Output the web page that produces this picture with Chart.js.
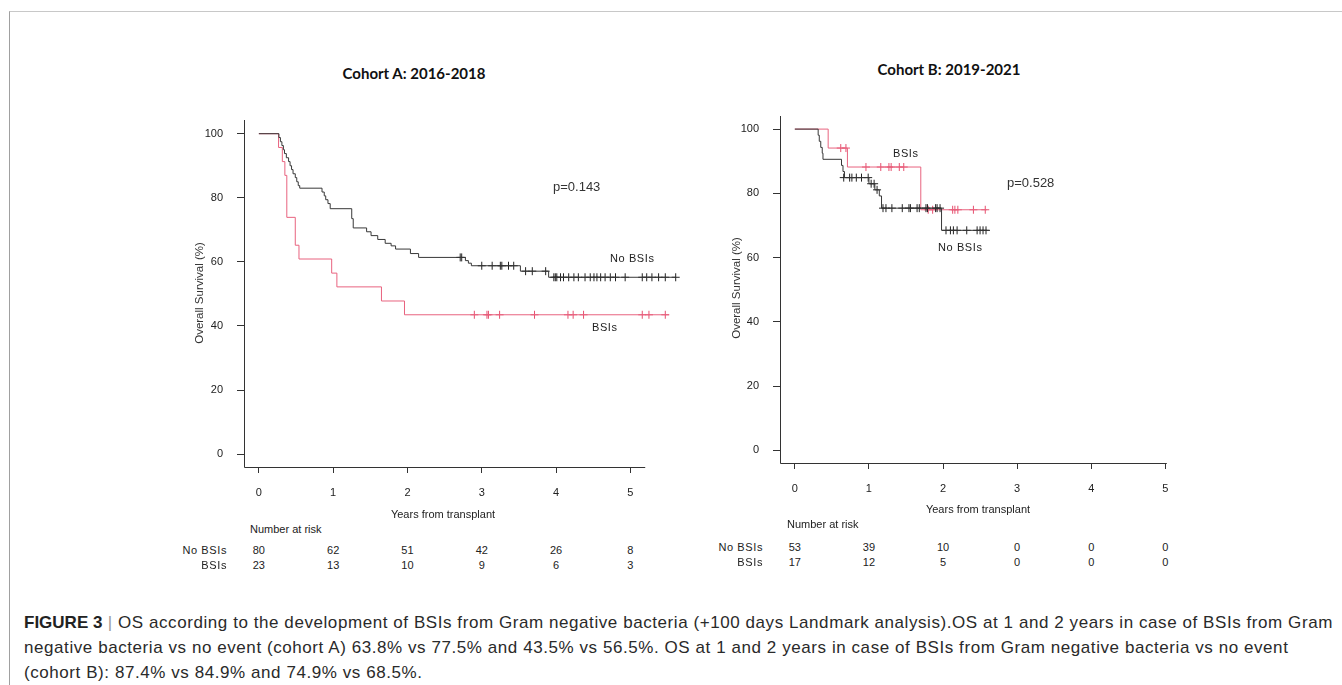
<!DOCTYPE html>
<html lang="en">
<head>
    <meta charset="UTF-8">
    <title>Figure 3 - OS by BSIs</title>
    <script src="https://cdn.jsdelivr.net/npm/chart.js"></script>
    <style>
        body {
            margin: 0;
            width: 1342px;
            height: 685px;
            background: #fff;
            font-family: "Liberation Sans", Arial, sans-serif;
            color: #222;
            position: relative;
            overflow: hidden;
        }
        .frame {
            position: absolute;
            left: 9px; top: 11px; right: 0; bottom: 0;
            border-top: 1px solid #c8c8c8;
            border-left: 1px solid #a0a0a0;
        }
        canvas { position: absolute; }
        .t {
            position: absolute;
            white-space: nowrap;
            font-size: 11px;
            line-height: 1;
            transform: translateY(-50%);
        }
        .c { transform: translate(-50%, -50%); }
        .r { transform: translate(-100%, -50%); }
        .title { font-family: Lato, sans-serif; font-weight: bold; font-size: 15px; color: #111; }
        .ylab { font-size: 11.5px; transform: translate(-50%, -50%) rotate(-90deg); color: #333; }
        .sp { letter-spacing: 0.6px; }
        .caption {
            position: absolute;
            left: 24px; top: 610px;
            font-size: 17px;
            letter-spacing: 0.57px;
            line-height: 25px;
            color: #2a2a2a;
            white-space: nowrap;
        }
        .caption b { color: #222; letter-spacing: 0; }
        .caption .bar { color: #999; }
    </style>
</head>
<body>
    <div class="frame"></div>
    <canvas id="chartA" width="560" height="420" style="left:150px; top:99px;"></canvas>
    <canvas id="chartB" width="510" height="420" style="left:690px; top:95px;"></canvas>

    <div class="t c title" style="left:414px; top:73px;">Cohort A: 2016-2018</div>
    <div class="t c title" style="left:949px; top:69px;">Cohort B: 2019-2021</div>

    <div class="t ylab" style="left:200px; top:293px;">Overall Survival (%)</div>
    <div class="t ylab" style="left:737px; top:288px;">Overall Survival (%)</div>

    <div class="t" style="left:553px; top:186px; font-size:13px; color:#333;">p=0.143</div>
    <div class="t sp" style="left:610px; top:258px;">No BSIs</div>
    <div class="t sp" style="left:592px; top:327px;">BSIs</div>

    <div class="t" style="left:1007px; top:182px; font-size:13px; color:#333;">p=0.528</div>
    <div class="t sp" style="left:893px; top:153px;">BSIs</div>
    <div class="t sp" style="left:938px; top:247px;">No BSIs</div>

    <div class="t c" style="left:443px; top:514px;">Years from transplant</div>
    <div class="t c" style="left:978px; top:509px;">Years from transplant</div>
    <div class="t" style="left:250px; top:529px;">Number at risk</div>
    <div class="t" style="left:787px; top:524px;">Number at risk</div>

    <div id="riskTables"></div>

    <div class="caption">
        <div><b>FIGURE 3</b> <span class="bar">|</span> OS according to the development of BSIs from Gram negative bacteria (+100 days Landmark analysis).OS at 1 and 2 years in case of BSIs from Gram</div>
        <div>negative bacteria vs no event (cohort A) 63.8% vs 77.5% and 43.5% vs 56.5%. OS at 1 and 2 years in case of BSIs from Gram negative bacteria vs no event</div>
        <div>(cohort B): 87.4% vs 84.9% and 74.9% vs 68.5%.</div>
    </div>

    <script>
        const xTicks = [0, 1, 2, 3, 4, 5];
        const yTicks = [0, 20, 40, 60, 80, 100];
        const groupLabels = ['No BSIs', 'BSIs'];

        // Cohort A: 2016-2018 (step points: time in years, survival % after the drop)
        const aNoTime = [0, 0.27, 0.29, 0.31, 0.33, 0.345, 0.37, 0.40, 0.42, 0.44, 0.46, 0.49, 0.51, 0.53, 0.55,
                         0.85, 0.88, 0.90, 0.93, 0.96, 1.25, 1.27, 1.45, 1.51, 1.60, 1.70, 1.78, 1.84, 2.04, 2.15,
                         2.78, 2.82, 2.86, 3.52, 3.90, 5.61];
        const aNoSurv = [100, 98.8, 97.5, 96.3, 95, 93.8, 92.5, 91.3, 90, 88.8, 87.5, 86.3, 85, 83.8, 83,
                         81.8, 80.6, 79.4, 78.2, 76.6, 73.5, 70.6, 69.4, 68.2, 67.0, 65.8, 65.0, 64.0, 62.6, 61.4,
                         60.4, 59.6, 58.8, 57.1, 55.2, 55.2];
        const aNoCensTime = [2.71, 2.73, 3.00, 3.14, 3.25, 3.27, 3.36, 3.43, 3.59, 3.68, 3.86,
                             3.97, 3.99, 4.01, 4.06, 4.10, 4.17, 4.24, 4.30, 4.39, 4.46, 4.51, 4.55, 4.60,
                             4.66, 4.73, 4.80, 4.93, 5.16, 5.22, 5.29, 5.38, 5.47, 5.61];
        const aNoCensSurv = [61.4, 61.4, 58.8, 58.8, 58.8, 58.8, 58.8, 58.8, 57.1, 57.1, 57.1,
                             55.2, 55.2, 55.2, 55.2, 55.2, 55.2, 55.2, 55.2, 55.2, 55.2, 55.2, 55.2, 55.2,
                             55.2, 55.2, 55.2, 55.2, 55.2, 55.2, 55.2, 55.2, 55.2, 55.2];
        const aBsiTime = [0, 0.265, 0.316, 0.35, 0.376, 0.49, 0.54, 0.98, 1.05, 1.65, 1.96, 5.52];
        const aBsiSurv = [100, 95.7, 91.3, 87.0, 73.9, 65.2, 60.9, 56.5, 52.2, 47.8, 43.5, 43.5];
        const aBsiCensTime = [2.90, 3.07, 3.09, 3.24, 3.71, 4.16, 4.23, 4.37, 5.16, 5.25, 5.47];
        const aBsiCensSurv = [43.5, 43.5, 43.5, 43.5, 43.5, 43.5, 43.5, 43.5, 43.5, 43.5, 43.5];
        const aRiskNo = [80, 62, 51, 42, 26, 8];
        const aRiskBsi = [23, 13, 10, 9, 6, 3];

        // Cohort B: 2019-2021
        const bNoTime = [0, 0.315, 0.33, 0.35, 0.37, 0.38, 0.63, 0.65, 0.67, 1.0, 1.08, 1.14, 1.17, 1.98, 2.62];
        const bNoSurv = [100, 98.1, 96.2, 94.3, 92.5, 90.6, 88.7, 86.8, 84.9, 83.0, 81.1, 79.2, 75.4, 68.5, 68.5];
        const bNoCensTime = [0.66, 0.74, 0.77, 0.83, 0.90, 0.99, 1.03, 1.07, 1.11,
                             1.19, 1.23, 1.31, 1.45, 1.54, 1.56, 1.65, 1.68, 1.77, 1.79, 1.90, 1.92, 1.96,
                             2.04, 2.10, 2.14, 2.19, 2.32, 2.46, 2.50, 2.54, 2.58];
        const bNoCensSurv = [84.9, 84.9, 84.9, 84.9, 84.9, 84.9, 83.0, 83.0, 81.1,
                             75.4, 75.4, 75.4, 75.4, 75.4, 75.4, 75.4, 75.4, 75.4, 75.4, 75.4, 75.4, 75.4,
                             68.5, 68.5, 68.5, 68.5, 68.5, 68.5, 68.5, 68.5, 68.5];
        const bBsiTime = [0, 0.45, 0.71, 1.70, 2.59];
        const bBsiSurv = [100, 94.1, 88.2, 74.9, 74.9];
        const bBsiCensTime = [0.62, 0.69, 0.96, 1.16, 1.27, 1.30, 1.41, 1.47, 1.80, 1.86, 2.13, 2.16, 2.20, 2.41, 2.57];
        const bBsiCensSurv = [94.1, 94.1, 88.2, 88.2, 88.2, 88.2, 88.2, 88.2, 74.9, 74.9, 74.9, 74.9, 74.9, 74.9, 74.9];
        const bRiskNo = [53, 39, 10, 0, 0, 0];
        const bRiskBsi = [17, 12, 5, 0, 0, 0];

        const blackLine = '#383838';
        const redLine = '#e8637f';

        const pts = (xs, ys) => xs.map((x, i) => ({ x: x, y: ys[i] }));

        // R style axes: L-shaped box, x line stopping short of the plot edge
        const axisLines = {
            id: 'axisLines',
            afterDraw(chart, args, opts) {
                const { ctx, chartArea } = chart;
                const x = chart.scales.x;
                const left = Math.round(chartArea.left) + 0.5;
                const bottom = Math.round(chartArea.bottom) + 0.5;
                ctx.save();
                ctx.strokeStyle = '#333';
                ctx.lineWidth = 1;
                ctx.beginPath();
                ctx.moveTo(left, Math.round(chartArea.top));
                ctx.lineTo(left, bottom);
                ctx.lineTo(x.getPixelForValue(opts.xEnd), bottom);
                ctx.stroke();
                ctx.restore();
            }
        };

        function kmChart(id, d) {
            return new Chart(document.getElementById(id), {
                type: 'line',
                data: {
                    datasets: [
                        { data: pts(d.noT, d.noS), borderColor: blackLine, borderWidth: 1, stepped: true, pointRadius: 0 },
                        { data: pts(d.noCT, d.noCS), borderColor: '#222', showLine: false,
                          pointStyle: 'cross', pointRadius: 4, borderWidth: 1 },
                        { data: pts(d.bsT, d.bsS), borderColor: redLine, borderWidth: 1, stepped: true, pointRadius: 0 },
                        { data: pts(d.bsCT, d.bsCS), borderColor: '#e6506f', showLine: false,
                          pointStyle: 'cross', pointRadius: 4, borderWidth: 1 }
                    ]
                },
                options: {
                    responsive: false,
                    animation: false,
                    events: [],
                    layout: { padding: { left: 0, top: 18, right: 30, bottom: 0 } },
                    plugins: {
                        legend: { display: false },
                        tooltip: { enabled: false },
                        axisLines: { xEnd: d.xEnd }
                    },
                    scales: {
                        x: {
                            type: 'linear',
                            min: -0.2,
                            max: d.xMax,
                            afterBuildTicks: s => { s.ticks = xTicks.map(v => ({ value: v })); },
                            afterFit: s => { s.height = 52; },
                            grid: { drawOnChartArea: false, drawTicks: true, tickLength: 6, color: '#333' },
                            border: { display: false },
                            ticks: { padding: 13, color: '#222', font: { family: 'Liberation Sans', size: 11 } }
                        },
                        y: {
                            min: d.yMin,
                            max: d.yMax,
                            afterBuildTicks: s => { s.ticks = yTicks.map(v => ({ value: v })); },
                            afterFit: s => { s.width = d.yWidth; },
                            grid: { drawOnChartArea: false, drawTicks: true, tickLength: 7, color: '#333' },
                            border: { display: false },
                            ticks: { padding: 14, color: '#222', font: { family: 'Liberation Sans', size: 11 } }
                        }
                    }
                },
                plugins: [axisLines]
            });
        }

        const chartA = kmChart('chartA', {
            noT: aNoTime, noS: aNoSurv, noCT: aNoCensTime, noCS: aNoCensSurv,
            bsT: aBsiTime, bsS: aBsiSurv, bsCT: aBsiCensTime, bsCS: aBsiCensSurv,
            xMax: 5.668, xEnd: 5.2, yMin: -4, yMax: 104.4, yWidth: 94
        });
        const chartB = kmChart('chartB', {
            noT: bNoTime, noS: bNoSurv, noCT: bNoCensTime, noCS: bNoCensSurv,
            bsT: bBsiTime, bsS: bBsiSurv, bsCT: bBsiCensTime, bsCS: bBsiCensSurv,
            xMax: 5.063, xEnd: 5.02, yMin: -3.9, yMax: 104.2, yWidth: 90
        });

        // number-at-risk table, columns placed under the x ticks
        function riskTable(chart, canvasLeft, labelRight, rowY, rows) {
            const box = document.getElementById('riskTables');
            rows.forEach((vals, r) => {
                const lab = document.createElement('div');
                lab.className = 't r sp';
                lab.style.left = labelRight + 'px';
                lab.style.top = rowY[r] + 'px';
                lab.textContent = groupLabels[r];
                box.appendChild(lab);
                vals.forEach((v, i) => {
                    const cell = document.createElement('div');
                    cell.className = 't c';
                    cell.style.left = (canvasLeft + chart.scales.x.getPixelForValue(xTicks[i])) + 'px';
                    cell.style.top = rowY[r] + 'px';
                    cell.textContent = v;
                    box.appendChild(cell);
                });
            });
        }
        riskTable(chartA, 150, 227, [550, 565], [aRiskNo, aRiskBsi]);
        riskTable(chartB, 690, 763, [547, 562], [bRiskNo, bRiskBsi]);
    </script>
</body>
</html>
